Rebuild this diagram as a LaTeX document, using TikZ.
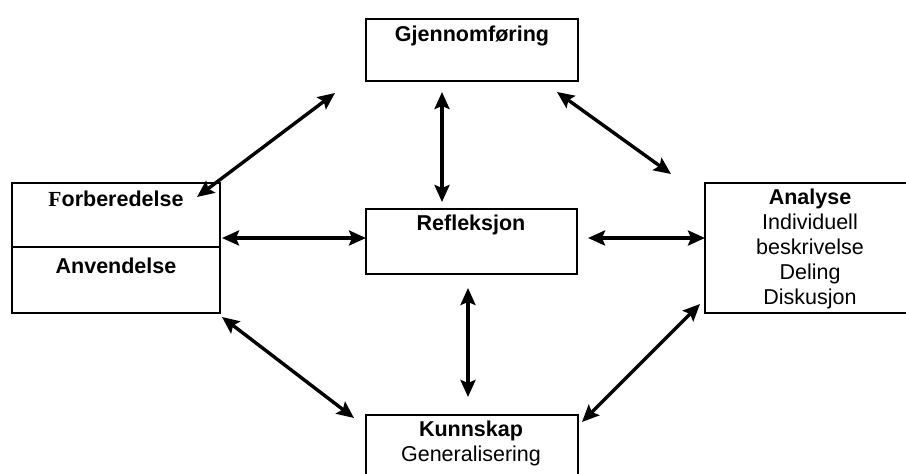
\documentclass[tikz,border=0pt]{standalone}
\usepackage{fontspec}
\setmainfont{Liberation Sans}
\newfontfamily\serifF{Liberation Serif}
\usetikzlibrary{arrows.meta}
\begin{document}
\begin{tikzpicture}[x=1pt,y=-1pt,
  box/.style={draw, line width=1.4pt, rectangle, inner sep=0pt},
  lbl/.style={inner sep=0pt, align=center, font=\fontsize{21.5}{25}\selectfont},
  arr/.style={line width=3.4pt, {Stealth[length=17pt,width=15pt,inset=3pt]}-{Stealth[length=17pt,width=15pt,inset=3pt]}}]
\clip (0,0) rectangle (906,474);
\fill[white] (0,0) rectangle (906,474);
% boxes
\node[box, minimum width=212, minimum height=62] (gj) at (472,50) {};
\node[box, minimum width=208, minimum height=130] (lb) at (116,248) {};
\draw[line width=1.4pt] (lb.west |- 0,247) -- (lb.east |- 0,247);
\node[box, minimum width=211, minimum height=65] (refl) at (471.5,241.5) {};
\node[box, minimum width=207, minimum height=130] (an) at (808.5,248) {};
\node[box, minimum width=212, minimum height=70] (ku) at (472,450) {};
% texts
\node[lbl] (tgj) at (472,36) {\bfseries Gjennomføring};
\node[lbl] (tfo) at (116,199) {{\serifF\bfseries F}\bfseries orberedelse};
\node[lbl] (tanv) at (116,266) {\bfseries Anvendelse};
\node[lbl] (trefl) at (471,225) {\bfseries Refleksjon};
\node[lbl] (tan) at (810,249) {\textbf{Analyse}\\Individuell\\beskrivelse\\Deling\\Diskusjon};
\node[lbl] (tku) at (471,443.5) {\textbf{Kunnskap}\\Generalisering};
% connector ends
\coordinate (a1) at (335,93);  \coordinate (a2) at (197,197);
\coordinate (b1) at (442,92);  \coordinate (b2) at (442,202);
\coordinate (c1) at (557,92);  \coordinate (c2) at (671,174);
\coordinate (d1) at (222,238); \coordinate (d2) at (366,238);
\coordinate (e1) at (588,238); \coordinate (e2) at (705,238);
\coordinate (f1) at (468,288); \coordinate (f2) at (468,397);
\coordinate (g1) at (222,317); \coordinate (g2) at (354,418);
\coordinate (h1) at (700,304); \coordinate (h2) at (582,422);
\draw[arr] (a1) -- (a2);
\draw[arr] (b1) -- (b2);
\draw[arr] (c1) -- (c2);
\draw[arr] (d1) -- (d2);
\draw[arr] (e1) -- (e2);
\draw[arr] (f1) -- (f2);
\draw[arr] (g1) -- (g2);
\draw[arr] (h1) -- (h2);
\end{tikzpicture}
\end{document}
